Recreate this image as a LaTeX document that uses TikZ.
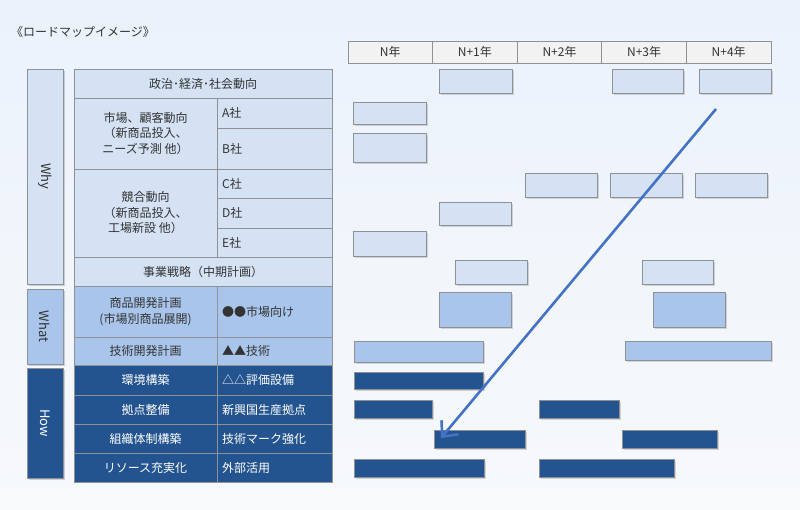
\documentclass[tikz,border=0pt]{standalone}
\usepackage{fontspec}
\setmainfont{Noto Sans CJK JP}
\usepackage{xcolor}
\usepackage{tikz}
\usetikzlibrary{arrows.meta,shadows}

\definecolor{bgtop}{HTML}{EBF2FC}
\definecolor{bgbot}{HTML}{F7F9FB}
\definecolor{rowlt}{HTML}{D4E2F4}
\definecolor{rowmd}{HTML}{A9C5EB}
\definecolor{rowdk}{HTML}{23548F}
\definecolor{gridgray}{HTML}{8E9196}
\definecolor{hdfill}{HTML}{F2F2F2}
\definecolor{txtgray}{HTML}{333333}
\definecolor{arrblue}{HTML}{4472C4}

\tikzset{
  cell/.style={draw=gridgray, line width=0.9pt},
  sidebar/.style={cell, drop shadow={shadow xshift=2pt, shadow yshift=-2pt, opacity=0.35}},
  bar/.style={draw=gridgray, line width=0.8pt, drop shadow={shadow xshift=2pt, shadow yshift=-2pt, opacity=0.3}},
  label/.style={inner sep=0pt, align=center},
  sidelabel/.style={label, rotate=-90, font=\fontsize{13}{15}\selectfont},
  arrline/.style={draw=arrblue, line width=2.6pt, -{Straight Barb[length=12pt, width=22pt]}}
}

\begin{document}
\begin{tikzpicture}[x=1pt, y=-1pt, font=\fontsize{12}{15.5}\selectfont, text=txtgray]
  \useasboundingbox (0,0) rectangle (800,509);
  \shade[top color=bgtop, bottom color=bgbot] (0,0) rectangle (800,509);

  % title
  \node[label, anchor=west] (title) at (11,32) {《ロードマップイメージ》};

  % year header
  \foreach \i/\t in {0/N年, 1/N+1年, 2/N+2年, 3/N+3年, 4/N+4年} {
    \draw[cell, fill=hdfill] (348+\i*84.6,41) rectangle node[label] (hd\i) {\t} (348+\i*84.6+84.6,63);
  }

  % side bars
  \draw[sidebar, fill=rowlt] (27,69) rectangle node[sidelabel] (why) {Why} (63,284);
  \draw[sidebar, fill=rowmd] (27,289) rectangle node[sidelabel] (what) {What} (63,364);
  \draw[sidebar, fill=rowdk] (27,368) rectangle node[sidelabel, text=white] (how) {How} (63,478);

  % Why rows
  \draw[cell, fill=rowlt] (74,69) rectangle node[label] (env) {政治･経済･社会動向} (332,98);
  \draw[cell, fill=rowlt] (74,98) rectangle node[label] (mkt) {市場、顧客動向\\（新商品投入、\\ニーズ予測 他）} (217,169);
  \draw[cell, fill=rowlt] (74,169) rectangle node[label] (cmp) {競合動向\\（新商品投入、\\工場新設 他）} (217,257);
  \draw[cell, fill=rowlt] (74,257) rectangle node[label] (strat) {事業戦略（中期計画）} (332,286);

  % What rows
  \draw[cell, fill=rowmd] (74,286) rectangle node[label] (prod) {商品開発計画\\(市場別商品展開)} (217,337);
  \draw[cell, fill=rowmd] (74,337) rectangle node[label] (tech) {技術開発計画} (217,365);

  % How rows
  \foreach \n/\ya/\yb/\t in {infra/365/395/環境構築, base/395/424/拠点整備, org/424/453/組織体制構築, res/453/482/リソース充実化} {
    \draw[cell, fill=rowdk] (74,\ya) rectangle node[label, text=white] (\n) {\t} (217,\yb);
  }

  % right column
  \foreach \n/\ya/\yb/\c/\tc/\t in {ca/98/128/rowlt/txtgray/A社, cb/128/169/rowlt/txtgray/B社,
      cc/169/198/rowlt/txtgray/C社, cd/198/228/rowlt/txtgray/D社, ce/228/257/rowlt/txtgray/E社,
      mk/286/337/rowmd/txtgray/●●市場向け, tk/337/365/rowmd/txtgray/▲▲技術,
      eq/365/395/rowdk/white/△△評価設備, np/395/424/rowdk/white/新興国生産拠点,
      bm/424/453/rowdk/white/技術マーク強化, ou/453/482/rowdk/white/外部活用} {
    \draw[cell, fill=\c] (217,\ya) rectangle (332,\yb);
    \node[label, anchor=west, text=\tc] (\n) at (222,{(\ya+\yb)/2}) {\t};
  }

  % light bars (Why)
  \foreach \xa/\ya/\xb/\yb in {439/69/512/93, 612/69/683/93, 699/69/771/93,
      353/102/426/124, 353/133/426/162,
      525/173/597/197, 610/173/682/197, 695/173/767/197,
      439/202/511/225, 353/231/426/256,
      455/260/527/284, 642/260/713/284} {
    \draw[bar, fill=rowlt] (\xa,\ya) rectangle (\xb,\yb);
  }
  % mid bars (What)
  \foreach \xa/\ya/\xb/\yb in {439/292/511/327, 653/292/725/327,
      354/341/483/362, 625/341/771/360} {
    \draw[bar, fill=rowmd] (\xa,\ya) rectangle (\xb,\yb);
  }
  % dark bars (How)
  \foreach \xa/\ya/\xb/\yb in {354/372/483/389,
      354/400/432/418, 539/400/619/418,
      434/430/525/448, 622/430/717/448,
      354/459/484/477, 539/459/674/477} {
    \draw[bar, fill=rowdk] (\xa,\ya) rectangle (\xb,\yb);
  }

  % arrow
  \coordinate (astart) at (716,109);
  \coordinate (aend) at (441,438);
  \draw[arrline] (astart) -- (aend);
\end{tikzpicture}
\end{document}
